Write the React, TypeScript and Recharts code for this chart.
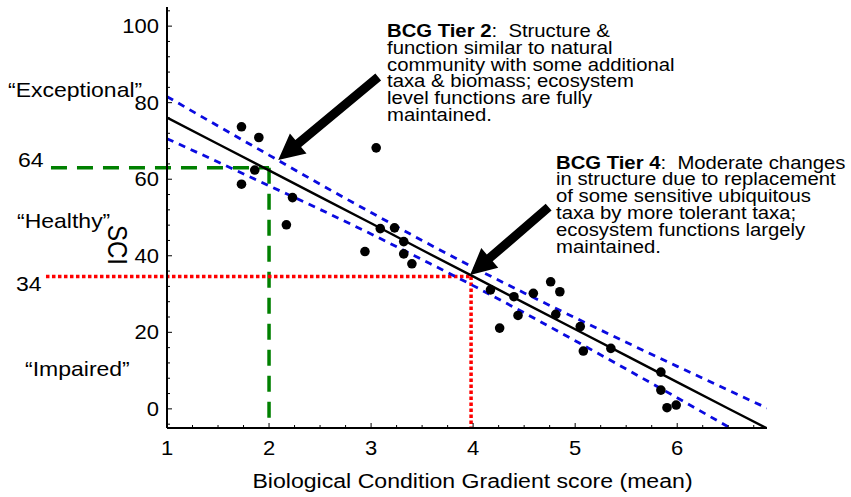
import React from "react";
import {
  ComposedChart,
  Line,
  Scatter,
  XAxis,
  YAxis,
  ReferenceLine,
} from "recharts";

// site values: mean BCG score vs SCI
const bcgScore = [
  1.73, 1.9, 1.86, 1.73, 3.05, 2.23, 2.17, 3.09, 3.23, 3.32, 3.32, 3.4, 2.94,
  4.17, 4.26, 4.4, 4.44, 4.59, 4.76, 4.85, 4.81, 5.05, 5.08, 5.35, 5.84, 5.84,
  5.9, 5.99,
];
const sciScore = [
  73.7, 70.9, 62.4, 58.7, 68.2, 55.2, 48.1, 47.1, 47.3, 43.7, 40.5, 37.9, 41.1,
  31.1, 21.1, 29.3, 24.4, 30.2, 33.2, 30.6, 24.7, 21.5, 15.1, 15.8, 9.6, 4.9,
  0.3, 1.0,
];

// regression line + confidence band (read off the picture)
const fitX = [1, 1.5, 2, 2.5, 3, 3.5, 4, 4.5, 5, 5.5, 6, 6.5, 6.88];
const fitSci = [76.1, 69.2, 62.3, 55.4, 48.5, 41.5, 34.6, 27.7, 20.8, 13.9, 7.0, 0.1, -5.1];
const upperBand = [81.6, 73.9, 66.3, 58.7, 51.3, 44.0, 37.0, 30.3, 23.8, 17.4, 11.1, 4.9, 0.2];
const lowerBand = [70.6, 64.5, 58.3, 52.1, 45.7, 39.0, 32.2, 25.1, 17.8, 10.4, 2.9, -4.7, -10.4];

const xMajorTicks = [1, 2, 3, 4, 5, 6];
const xMinorTicks = [
  1.25, 1.5, 1.75, 2.25, 2.5, 2.75, 3.25, 3.5, 3.75, 4.25, 4.5, 4.75, 5.25, 5.5,
  5.75, 6.25, 6.5, 6.75,
];
const yMajorTicks = [0, 20, 40, 60, 80, 100];
const yMinorTicks = [
  -4, 4, 8, 12, 16, 24, 28, 32, 36, 44, 48, 52, 56, 64, 68, 72, 76, 84, 88, 92,
  96, 104,
];

// tier cut-offs
const tier2 = { bcg: 2, sci: 63, labelX: -0.137 };
const tier4 = { bcg: 3.98, sci: 34.6, labelX: -0.186 };
// arrows: [tail, tip]
const arrow2 = [{ x: 3.07, y: 86.7 }, { x: 2.09, y: 65.0 }];
const arrow4 = [{ x: 4.74, y: 52.7 }, { x: 3.97, y: 35.0 }];

const tier2Text = [
  "function similar to natural",
  "community with some additional",
  "taxa & biomass; ecosystem",
  "level functions are fully",
  "maintained.",
];
const tier4Text = [
  "in structure due to replacement",
  "of some sensitive ubiquitous",
  "taxa by more tolerant taxa;",
  "ecosystem functions largely",
  "maintained.",
];

const FONT = '"Liberation Sans", Arial, sans-serif';

const points = bcgScore.map((x, i) => ({ x, y: sciScore[i] }));
const bandData = fitX.map((x, i) => ({
  x,
  fit: fitSci[i],
  upper: upperBand[i],
  lower: lowerBand[i],
}));

const isMajorX = (v: number) => xMajorTicks.includes(v);
const isMajorY = (v: number) => yMajorTicks.includes(v);

function T({ x, y, size = 20, sx = 1.15, anchor = "start", children }: any) {
  return (
    <text
      transform={`translate(${x} ${y}) scale(${sx} 1)`}
      fontSize={size}
      textAnchor={anchor}
      fontFamily={FONT}
      fill="#000"
      style={{ whiteSpace: "pre" }}
    >
      {children}
    </text>
  );
}

const BottomTick = ({ x, y, payload }: any) => {
  const major = isMajorX(payload.value);
  return (
    <g>
      <line x1={x} y1={y} x2={x} y2={y - (major ? 5 : 3)} stroke="#000" strokeWidth={1} />
      {major && (
        <T x={x} y={y + 27} anchor="middle" sx={1.1}>
          {payload.value}
        </T>
      )}
    </g>
  );
};

const TopTick = ({ x, y, payload }: any) => (
  <line x1={x} y1={y} x2={x} y2={y + (isMajorX(payload.value) ? 5 : 3)} stroke="#000" strokeWidth={1} />
);

const LeftTick = ({ x, y, payload }: any) => {
  const major = isMajorY(payload.value);
  return (
    <g>
      <line x1={x} y1={y} x2={x + (major ? 5 : 3)} y2={y} stroke="#000" strokeWidth={1} />
      {major && (
        <T x={x - 8} y={y + 7} anchor="end" sx={1.1}>
          {payload.value}
        </T>
      )}
    </g>
  );
};

const RightTick = ({ x, y, payload }: any) => (
  <line x1={x} y1={y} x2={x - (isMajorY(payload.value) ? 5 : 3)} y2={y} stroke="#000" strokeWidth={1} />
);

const Dot = (props: any) => <circle cx={props.cx} cy={props.cy} r={4.8} fill="#000" />;

const Arrow = (props: any) => {
  const { x1, y1, x2, y2 } = props;
  const dx = x2 - x1;
  const dy = y2 - y1;
  const len = Math.sqrt(dx * dx + dy * dy);
  const ux = dx / len;
  const uy = dy / len;
  const nx = -uy;
  const ny = ux;
  const head = 26;
  const hw = 13;
  const sw = 4.5;
  const bx = x2 - ux * head;
  const by = y2 - uy * head;
  const pts = [
    [x1 + nx * sw, y1 + ny * sw],
    [bx + nx * sw, by + ny * sw],
    [bx + nx * hw, by + ny * hw],
    [x2, y2],
    [bx - nx * hw, by - ny * hw],
    [bx - nx * sw, by - ny * sw],
    [x1 - nx * sw, y1 - ny * sw],
  ]
    .map((p) => p.join(","))
    .join(" ");
  return <polygon points={pts} fill="#000" />;
};

// tight leading like the original slide text
const Annotation = ({ x, y, bold, rest, lines }: any) => (
  <g>
    <text
      transform={`translate(${x} ${y}) scale(1.16 1)`}
      fontSize={17.5}
      fontFamily={FONT}
      fill="#000"
      style={{ whiteSpace: "pre" }}
    >
      <tspan fontWeight="bold">{bold}</tspan>
      <tspan>{rest}</tspan>
    </text>
    {lines.map((l: string, i: number) => (
      <T key={i} x={x} y={y + (i + 1) * 16.9} size={17.5} sx={1.16}>
        {l}
      </T>
    ))}
  </g>
);

export default function App() {
  return (
    <div style={{ position: "absolute", left: 0, top: 0, width: 851, height: 497, background: "#fff" }}>
      <ComposedChart
        width={851}
        height={497}
        data={bandData}
        margin={{ top: 7, right: 84, bottom: 0, left: 0 }}
      >
        <XAxis
          dataKey="x"
          type="number"
          domain={[1, 6.88]}
          allowDataOverflow
          ticks={[...xMajorTicks, ...xMinorTicks]}
          interval={0}
          height={69}
          tickSize={0}
          tickMargin={0}
          tickLine={false}
          tick={<BottomTick />}
          axisLine={{ stroke: "#000", strokeWidth: 2 }}
        />
        <XAxis
          xAxisId="top"
          orientation="top"
          type="number"
          domain={[1, 6.88]}
          allowDataOverflow
          ticks={[...xMajorTicks, ...xMinorTicks]}
          interval={0}
          height={0}
          tickSize={0}
          tickMargin={0}
          tickLine={false}
          tick={<TopTick />}
          axisLine={{ stroke: "#000", strokeWidth: 2 }}
        />
        <YAxis
          dataKey="y"
          type="number"
          domain={[-5, 105]}
          allowDataOverflow
          ticks={[...yMajorTicks, ...yMinorTicks]}
          interval={0}
          width={167}
          tickSize={0}
          tickMargin={0}
          tickLine={false}
          tick={<LeftTick />}
          axisLine={{ stroke: "#000", strokeWidth: 2 }}
        />
        <YAxis
          yAxisId="right"
          orientation="right"
          type="number"
          domain={[-5, 105]}
          allowDataOverflow
          ticks={[...yMajorTicks, ...yMinorTicks]}
          interval={0}
          width={0}
          tickSize={0}
          tickMargin={0}
          tickLine={false}
          tick={<RightTick />}
          axisLine={{ stroke: "#000", strokeWidth: 2 }}
        />

        <ReferenceLine
          segment={[{ x: tier2.labelX, y: tier2.sci }, { x: tier2.bcg, y: tier2.sci }]}
          stroke="#008000"
          strokeWidth={3.5}
          strokeDasharray="16 10"
          ifOverflow="visible"
        />
        <ReferenceLine
          segment={[{ x: tier2.bcg, y: tier2.sci }, { x: tier2.bcg, y: -5 }]}
          stroke="#008000"
          strokeWidth={3.5}
          strokeDasharray="16 10"
          ifOverflow="visible"
        />
        <ReferenceLine
          segment={[{ x: tier4.labelX, y: tier4.sci }, { x: tier4.bcg, y: tier4.sci }]}
          stroke="#ff0000"
          strokeWidth={3.5}
          strokeDasharray="3.5 2.5"
          ifOverflow="visible"
        />
        <ReferenceLine
          segment={[{ x: tier4.bcg, y: tier4.sci }, { x: tier4.bcg, y: -5 }]}
          stroke="#ff0000"
          strokeWidth={3.5}
          strokeDasharray="3.5 2.5"
          ifOverflow="visible"
        />

        <Line
          dataKey="upper"
          type="monotone"
          stroke="#0a0ae0"
          strokeWidth={2.8}
          strokeDasharray="7 6"
          dot={false}
          isAnimationActive={false}
        />
        <Line
          dataKey="lower"
          type="monotone"
          stroke="#0a0ae0"
          strokeWidth={2.8}
          strokeDasharray="7 6"
          dot={false}
          isAnimationActive={false}
        />
        <Line
          dataKey="fit"
          type="linear"
          stroke="#000"
          strokeWidth={2.4}
          dot={false}
          isAnimationActive={false}
        />
        <Scatter data={points} dataKey="y" shape={<Dot />} isAnimationActive={false} />

        <ReferenceLine segment={arrow2} shape={Arrow} ifOverflow="visible" />
        <ReferenceLine segment={arrow4} shape={Arrow} ifOverflow="visible" />
      </ComposedChart>

      <svg
        width={851}
        height={497}
        style={{ position: "absolute", left: 0, top: 0, pointerEvents: "none" }}
      >
        <T x={8} y={97}>“Exceptional”</T>
        <T x={18} y={167}>64</T>
        <T x={17} y={228}>“Healthy”</T>
        <T x={16} y={291}>34</T>
        <T x={25} y={376}>“Impaired”</T>
        <text
          transform="translate(118 245) rotate(90) scale(1 1.15)"
          fontSize={24}
          textAnchor="middle"
          dominantBaseline="central"
          fontFamily={FONT}
          fill="#000"
        >
          SCI
        </text>
        <T x={472.5} y={488} size={21} sx={1.1} anchor="middle">
          Biological Condition Gradient score (mean)
        </T>
        <Annotation x={387} y={36.7} bold="BCG Tier 2" rest=":  Structure &" lines={tier2Text} />
        <Annotation x={556} y={168.5} bold="BCG Tier 4" rest=":  Moderate changes" lines={tier4Text} />
      </svg>
    </div>
  );
}
